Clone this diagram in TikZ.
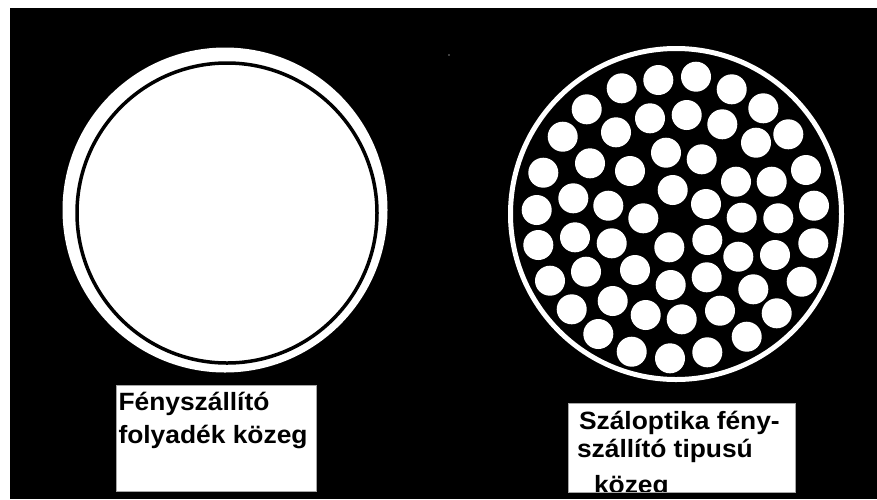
\documentclass[tikz,border=0pt]{standalone}
\usepackage{fontspec}
\setmainfont{Liberation Sans}
\tikzset{
  lbl/.style={anchor=base west, inner sep=0pt, outer sep=0pt, text=black,
              font=\fontsize{25pt}{30pt}\selectfont\bfseries},
  fiber/.style={fill=white, draw=none},
  labelbox/.style={fill=white, draw=gray!70, line width=1pt, inner sep=0pt, anchor=north west},
}
\newcommand{\wtext}[1]{\scalebox{1.055}[1]{#1}}
\begin{document}
\begin{tikzpicture}[x=1pt,y=-1pt]
\useasboundingbox (0,0) rectangle (877,499);
\fill[white] (0,0) rectangle (877,499);
\fill[black] (10,8) rectangle (877,499);
\fill[gray] (449,55) circle (0.8pt);
% left: liquid light guide
\fill[white] (225,210) circle (162.5pt);
\draw[black, line width=3.5pt] (227,213) circle (150pt);
% right: fibre bundle
\draw[white, line width=5pt] (676,214) circle (165.5pt);
\foreach \x/\y in {621.7/88.3, 658.3/80, 696/76.7, 731.7/89.3, 763.3/108.3,
  586.7/109.3, 650/118.3, 686.7/115, 722.3/124.3, 788.3/134.3, 756/142.7,
  562.7/136.7, 616/132.3, 666/152.7, 701.7/159.3,
  543.3/172.7, 590/163.3, 630/171, 736/181.7, 771.7/181.7, 806/170, 672.7/190,
  573.3/198.3, 536.7/210, 608.3/205.7, 643.3/218.3, 706/204, 741.7/217.7, 778.3/218.3, 814/205.7,
  538.3/245, 575/237.3, 611.7/243.3, 669.3/247.3, 707.3/240, 738.3/256.7, 775/255, 813.3/243.3,
  550/280.7, 586/271.7, 635/270, 670.7/285, 706.7/277.3, 753.3/289.3, 801.7/281.7,
  571.7/309.3, 612.7/301, 645.7/315, 681.7/319.3, 720/310.7, 776.7/313.3,
  598.3/334, 631.7/351.7, 670/358.3, 707.3/352.3, 746.7/336.7}
  \fill[fiber] (\x,\y) circle (15pt);
% left label
\node[labelbox, minimum width=200pt, minimum height=106pt] (lbox) at (116,385) {};
\node[lbl] (l1) at (118.5,410) {\wtext{Fényszállító}};
\node[lbl] (l2) at (118.5,443.3) {\wtext{folyadék közeg}};
% right label
\node[labelbox, minimum width=227pt, minimum height=89pt] (rbox) at (568,403) {};
\begin{scope}
  \clip (568.5,403.5) rectangle (794.5,491.8);
  \node[lbl] (r1) at (579,429) {\wtext{Száloptika fény-}};
  \node[lbl] (r2) at (577,457.3) {\wtext{szállító tipusú}};
  \node[lbl] (r3) at (594,493.5) {\wtext{közeg}};
\end{scope}
\end{tikzpicture}
\end{document}
